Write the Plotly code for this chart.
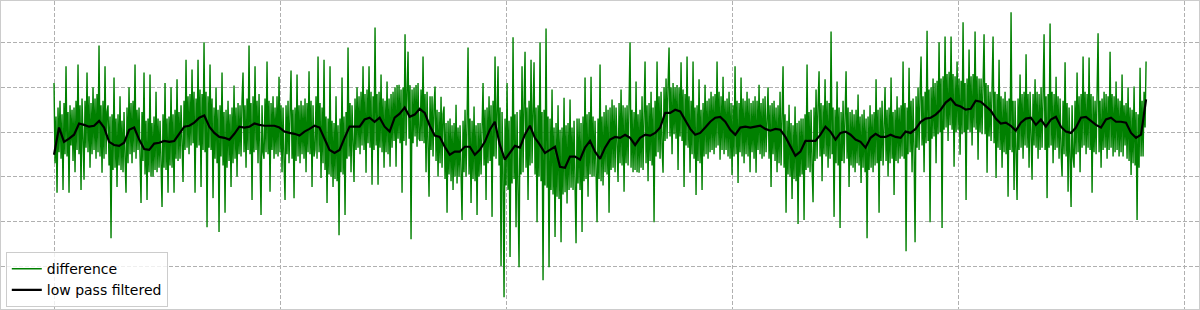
import numpy as np
import plotly.graph_objects as go

# "difference" signal (evenly spaced samples over 0..2416)
difference = [
    1.10, -0.70, 0.35, -1.36, 0.55, -0.45, 0.70, -0.60, 0.40, -1.30, 0.65, -0.50, 1.47, -0.55, 0.45,
    -1.36, 0.60, -0.30, 0.50, -0.65, 0.55, -0.90, 0.70, -0.40, 1.51, -0.50, 0.60, -1.30, 0.75, -0.45,
    -1.07, 0.70, -0.35, 1.33, -0.45, 0.80, -0.80, 0.65, -0.50, 1.00, -0.40, 0.75, -0.60, 0.85, -0.45,
    1.94, -0.55, 0.60, -0.91, 0.70, -0.60, 1.47, -0.50, 0.45, 0.60, -0.75, 0.35, -2.38, 0.40, -0.85,
    1.22, -0.80, 0.30, -1.23, 0.40, -0.75, 0.80, -0.85, 0.25, -0.90, 0.45, -0.60, -1.36, 0.55, -0.70,
    1.00, -0.50, 0.65, -0.70, 0.70, -0.45, 1.51, -0.60, 0.50, -0.40, 0.55, -0.75, -1.59, 0.45, -0.65,
    1.33, -0.95, 0.25, -1.52, 0.30, -0.90, 1.29, -1.00, 0.20, -1.00, 0.35, -0.85, 0.90, -0.90, 0.30,
    -0.80, 0.25, -0.95, -1.68, 0.40, -0.80, 1.10, -0.85, 0.30, -1.36, 0.35, -0.75, 1.00, -0.80, 0.40,
    -1.36, 0.50, -0.60, 1.18, -0.65, 0.45, -0.60, 0.60, -0.55, -1.12, 0.70, -0.40, 1.62, -0.35, 0.80,
    -0.50, 0.85, -0.30, 1.40, -0.25, 0.90, -1.36, 0.75, -0.35, 1.62, -0.30, 0.95, -1.23, 0.85, -0.40,
    2.01, -0.45, 0.90, -2.13, 0.80, -0.35, 1.51, -0.40, 0.75, -1.48, 0.55, -0.60, 1.00, -0.70, 0.50,
    -2.24, 0.60, -0.55, 1.33, -0.75, 0.45, -1.81, 0.50, -0.80, 0.70, -0.65, 0.40, -1.23, 0.55, -0.70,
    1.04, -0.60, 0.55, -1.00, 0.65, -0.50, 0.60, -0.55, 0.70, 1.33, -0.45, 0.60, -0.80, 0.75, -0.40,
    1.94, -0.50, 0.65, -1.52, 0.80, -0.45, 1.47, -0.40, 0.70, -0.70, 0.85, -0.55, -1.86, 0.60, -0.45,
    -0.60, 0.75, -0.45, 1.58, -0.50, 0.70, -1.34, 0.65, -0.40, 0.80, -0.60, 0.55, -0.50, 0.80, -0.55,
    1.24, -0.45, 0.60, -0.90, 0.55, -0.65, -1.52, 0.60, -0.50, 0.70, -0.70, 0.45, 1.38, -0.60, 0.50,
    -1.48, 0.55, -0.65, 1.29, -0.55, 0.60, -0.70, 0.70, -0.50, 0.60, -0.60, 0.75, -0.90, 0.65, -0.45,
    1.36, -0.50, 0.70, -1.23, 0.60, -0.55, -0.40, 0.80, -0.60, 1.69, -0.45, 0.65, -1.03, 0.55, -0.70,
    1.62, -0.85, 0.35, -1.59, 0.30, -0.95, 1.47, -1.00, 0.25, -1.23, 0.20, -1.05, 0.80, -1.10, 0.15,
    -2.31, 0.30, -0.90, 1.22, -0.95, 0.35, -1.86, 0.45, -0.60, 1.89, -0.55, 0.65, -0.90, 0.60, -0.50,
    -1.12, 0.75, -0.40, 1.00, -0.35, 0.80, -0.50, 0.90, -0.30, 1.47, -0.40, 0.85, -0.91, 0.95, -0.25,
    1.47, -0.35, 0.90, -1.18, 0.80, -0.40, 2.34, -0.30, 0.85, -1.18, 0.90, -0.35, 1.29, -0.45, 0.75,
    -0.80, 0.70, -0.45, 1.13, -0.50, 0.75, -0.78, 0.85, -0.35, 0.90, -0.20, 1.00, -0.78, 1.05, -0.15,
    1.06, -0.25, 0.95, -1.36, 1.00, -0.20, 2.19, -0.30, 0.90, 1.80, -0.15, 1.05, -2.40, 0.95, -0.25,
    1.00, -0.10, 1.05, -0.33, 1.10, -0.15, -0.20, 0.95, -0.20, 1.69, -0.25, 0.85, -0.90, 0.90, -0.35,
    -1.45, 0.80, -0.40, 0.80, -0.55, 0.60, 1.02, -0.65, 0.50, -1.00, 0.45, -0.70, 0.79, -0.80, 0.40,
    0.57, -1.05, 0.20, -1.81, 0.25, -0.95, 0.30, -1.10, 0.15, -1.30, 0.20, -1.00, 0.61, -1.15, 0.10,
    -1.00, 0.15, -1.05, -1.97, 0.25, -0.90, 0.50, -1.00, 0.20, 1.89, -0.95, 0.30, -1.59, 0.25, -1.05,
    0.57, -1.10, 0.15, -1.86, 0.20, -1.00, 0.20, -0.95, 0.40, 1.10, -0.75, 0.50, -1.52, 0.55, -0.70,
    0.80, -0.65, 0.60, -1.90, 0.70, -0.55, 1.69, -0.60, 0.65, 1.47, -0.75, 0.55, -3.00, 0.45, -0.90,
    -3.70, 0.30, -1.20, 1.10, -1.30, 0.25, -2.80, 0.35, -1.15, 2.12, -1.05, 0.40, -2.13, 0.45, -1.00,
    -3.03, 0.50, -0.95, 1.47, -0.90, 0.60, 1.80, -0.80, 0.55, -1.52, 0.70, -0.75, 1.62, -0.70, 0.75,
    1.56, -0.95, 0.55, -2.02, 0.60, -1.00, 2.01, -1.10, 0.45, -3.32, 0.50, -1.20, 2.32, -1.25, 0.35,
    -3.03, 0.30, -1.30, 0.95, -1.40, 0.10, -2.35, 0.20, -1.45, 0.60, -1.50, 0.05, -2.47, 0.10, -1.40,
    0.77, -1.35, 0.15, -1.60, 0.20, -1.30, 0.73, -1.25, 0.10, -1.30, 0.25, -1.20, -2.49, 0.30, -1.15,
    0.30, -1.30, 0.20, -2.24, 0.35, -1.10, 1.22, -1.05, 0.40, -1.45, 0.45, -0.95, 1.24, -1.00, 0.35,
    -1.00, 0.25, -1.15, -2.02, 0.30, -1.05, 1.51, -1.10, 0.35, -1.20, 0.45, -0.90, 0.60, -0.95, 0.50,
    -1.81, 0.55, -0.85, 0.73, -0.80, 0.60, -0.90, 0.55, -0.75, -1.12, 0.65, -0.70, 0.95, -0.75, 0.60,
    -1.34, 0.55, -0.70, 0.60, -0.75, 0.65, 2.01, -0.80, 0.50, -0.90, 0.45, -0.85, 1.13, -0.90, 0.40,
    -0.91, 0.50, -0.80, 0.80, -0.85, 0.55, 1.58, -0.70, 0.60, -1.10, 0.65, -0.65, 0.90, -0.75, 0.55,
    -2.02, 0.70, -0.55, 1.58, -0.45, 0.80, -0.60, 0.90, -0.35, -0.91, 1.00, -0.20, 1.20, -0.15, 1.05,
    1.89, -0.10, 1.00, -0.50, 1.10, -0.05, 1.00, -0.15, 1.05, -0.85, 1.00, -0.10, 1.56, -0.20, 0.95,
    -1.23, 0.85, -0.30, 1.69, -0.35, 0.80, -0.91, 0.70, -0.50, 1.58, -0.60, 0.55, -1.41, 0.60, -0.65,
    1.18, -0.70, 0.50, -1.30, 0.65, -0.55, 1.06, -0.50, 0.70, -0.60, 0.75, -0.45, 0.90, -0.40, 0.80,
    -0.50, 0.85, -0.35, 1.58, -0.30, 0.90, -0.62, 0.80, -0.40, 1.24, -0.50, 0.70, -0.40, 0.75, -0.55,
    0.90, -0.60, 0.65, -0.96, 0.60, -0.55, 1.47, -0.50, 0.70, -1.14, 0.65, -0.45, 1.22, -0.55, 0.75,
    -0.70, 0.70, -0.50, 0.90, -0.55, 0.75, -0.90, 0.65, -0.45, 0.70, -0.60, 0.80, -0.91, 0.70, -0.40,
    1.06, -0.50, 0.65, -0.60, 0.75, -0.55, 0.80, -0.45, 0.70, 1.00, -0.60, 0.60, -1.23, 0.65, -0.50,
    0.70, -0.65, 0.55, -0.90, 0.60, -0.70, 0.90, -0.75, 0.45, 1.47, -0.80, 0.40, -1.81, 0.25, -0.95,
    0.61, -1.00, 0.20, -1.50, 0.15, -1.05, 0.57, -1.10, 0.20, -2.06, 0.25, -1.00, 0.30, -0.95, 0.30,
    -1.97, 0.40, -0.85, 1.51, -0.80, 0.45, -0.90, 0.50, -0.75, -1.57, 0.55, -0.65, 0.95, -0.60, 0.60,
    1.36, -0.55, 0.65, -1.10, 0.60, -0.50, 1.18, -0.55, 0.70, -0.80, 0.65, -0.60, 2.25, -0.50, 0.55,
    -1.90, 0.50, -0.70, 1.13, -0.75, 0.55, -2.15, 0.45, -0.65, 0.70, -0.70, 0.50, 1.36, -0.60, 0.55,
    -1.23, 0.45, -0.75, 0.50, -0.80, 0.40, -0.90, 0.50, -0.70, 0.84, -0.75, 0.35, -1.14, 0.40, -0.80,
    0.50, -0.90, 0.30, -2.38, 0.35, -0.85, 0.60, -0.80, 0.40, -0.90, 0.45, -0.75, 1.18, -0.70, 0.50,
    -1.81, 0.55, -0.65, 0.70, -0.75, 0.45, 1.00, -0.65, 0.50, -1.00, 0.55, -0.70, 1.22, -0.60, 0.45,
    -1.41, 0.50, -0.65, 0.80, -0.70, 0.55, -0.60, 0.60, -0.55, 1.58, -0.60, 0.65, -2.67, 0.55, -0.50,
    1.44, -0.45, 0.70, -0.90, 0.75, -0.40, -2.47, 0.80, -0.35, 1.00, -0.40, 0.85, 1.69, -0.30, 0.80,
    -0.90, 0.90, -0.25, 2.27, -0.20, 0.95, -2.02, 1.00, -0.15, 1.20, -0.10, 1.10, -0.70, 1.15, -0.05,
    2.01, 0.00, 1.20, -2.15, 1.25, 0.05, 2.14, 0.10, 1.30, -0.20, 1.35, 0.15, 2.14, 0.05, 1.30,
    -0.78, 1.25, 0.00, 1.58, 0.05, 1.20, -0.51, 1.15, -0.05, 2.46, 0.00, 1.10, -1.52, 1.20, 0.05,
    1.85, 0.00, 1.25, -0.30, 1.30, 0.10, 2.25, 0.05, 1.25, -0.62, 1.20, 0.00, 1.20, -0.05, 1.15,
    2.19, -0.05, 1.10, -0.91, 1.05, -0.10, 0.90, -0.20, 0.95, 2.14, -0.25, 0.90, -1.03, 0.85, -0.35,
    1.62, -0.40, 0.80, -0.80, 0.75, -0.45, 0.90, -0.50, 0.70, -1.45, 0.75, -0.40, 2.68, -0.45, 0.70,
    -1.30, 0.70, -0.45, -1.52, 0.75, -0.40, 1.29, -0.35, 0.85, -0.60, 0.90, -0.30, 1.74, -0.35, 0.85,
    -0.80, 0.90, -0.40, -1.07, 0.85, -0.30, 1.18, -0.35, 0.90, -0.60, 0.85, -0.40, 1.00, -0.35, 0.80,
    2.19, -0.40, 0.80, -1.48, 0.85, -0.35, 2.43, -0.30, 0.90, -0.70, 0.85, -0.40, 1.24, -0.35, 0.80,
    -0.60, 0.75, -0.45, -1.00, 0.70, -0.50, 1.56, -0.55, 0.65, -1.34, 0.55, -0.60, -1.68, 0.60, -0.55,
    -0.80, 0.70, -0.50, 1.33, -0.45, 0.80, -0.90, 0.85, -0.35, 1.69, -0.30, 0.90, -0.50, 0.85, -0.35,
    1.67, -0.40, 0.85, -1.36, 0.80, -0.45, 0.70, -0.50, 0.75, 2.21, -0.45, 0.70, -0.80, 0.75, -0.40,
    0.90, -0.35, 0.85, -0.60, 0.80, -0.40, 1.80, -0.35, 0.85, -0.55, 0.80, -0.45, 1.13, -0.40, 0.75,
    -0.55, 0.70, -0.45, 1.29, -0.55, 0.60, -0.30, 0.65, -0.60, 1.00, -0.65, 0.55, -0.96, 0.50, -0.70,
    1.02, -0.75, 0.45, -1.97, 0.40, -0.80, 1.44, -0.55, 0.70, -0.55, 0.90, 0.10, 1.58,
]

# "low pass filtered" signal
low_pass = [
    -0.51, 0.10, -0.22, -0.15, -0.06, 0.19, 0.16, 0.12, 0.14, 0.25,
    0.10, -0.22, -0.29, -0.31, -0.24, 0.05, 0.10, -0.17, -0.38, -0.40,
    -0.26, -0.24, -0.20, -0.22, -0.20, -0.04, 0.12, 0.14, 0.21, 0.32,
    0.37, 0.12, -0.02, -0.11, -0.13, -0.17, -0.04, 0.12, 0.10, 0.12,
    0.19, 0.16, 0.14, 0.14, 0.14, 0.10, 0.01, -0.02, -0.04, -0.08,
    0.01, 0.07, 0.14, 0.10, -0.17, -0.40, -0.47, -0.40, -0.13, 0.12,
    0.12, 0.12, 0.28, 0.32, 0.23, 0.32, 0.12, 0.01, 0.32, 0.41,
    0.55, 0.34, 0.39, 0.52, 0.43, 0.14, -0.08, -0.11, -0.33, -0.51,
    -0.44, -0.44, -0.33, -0.33, -0.51, -0.40, -0.22, 0.05, 0.23, -0.29,
    -0.62, -0.47, -0.31, -0.35, -0.06, 0.14, -0.13, -0.29, -0.47, -0.40,
    -0.33, -0.78, -0.80, -0.55, -0.55, -0.62, -0.35, -0.20, -0.44, -0.60,
    -0.35, -0.17, -0.11, -0.13, -0.06, -0.13, -0.29, -0.13, -0.06, -0.08,
    -0.02, 0.10, 0.43, 0.43, 0.50, 0.46, 0.28, 0.07, -0.06, -0.02,
    0.10, 0.23, 0.32, 0.34, 0.23, 0.05, -0.06, 0.10, 0.12, 0.10,
    0.12, 0.14, 0.07, 0.03, 0.07, 0.05, -0.11, -0.31, -0.53, -0.44,
    -0.20, -0.20, -0.20, -0.06, 0.12, 0.01, -0.17, -0.02, 0.01, -0.06,
    -0.17, -0.22, -0.35, -0.13, -0.04, -0.11, -0.11, -0.06, -0.11, -0.13,
    0.01, -0.02, 0.07, 0.23, 0.30, 0.32, 0.39, 0.50, 0.66, 0.75,
    0.61, 0.57, 0.50, 0.52, 0.70, 0.68, 0.57, 0.48, 0.30, 0.19,
    0.21, 0.14, 0.03, 0.21, 0.30, 0.32, 0.16, 0.28, 0.12, 0.28,
    0.34, 0.12, 0.01, -0.02, 0.10, 0.32, 0.34, 0.25, 0.16, 0.10,
    0.28, 0.32, 0.23, 0.23, 0.21, -0.02, -0.13, -0.06, 0.73,
]

series_names = ["difference", "low pass filtered"]
n_samples = 2416

x_diff = np.linspace(0, n_samples, len(difference))
x_low = np.linspace(0, n_samples, len(low_pass))

fig = go.Figure()
fig.add_trace(go.Scatter(x=x_diff, y=difference, mode="lines", name=series_names[0],
                         line=dict(color="#008000", width=1.4)))
fig.add_trace(go.Scatter(x=x_low, y=low_pass, mode="lines", name=series_names[1],
                         line=dict(color="#000000", width=2.2)))

axis_common = dict(showticklabels=False, ticks="", zeroline=False,
                   showgrid=True, gridcolor="#b0b0b0", griddash="4px,2px", gridwidth=1,
                   showline=True, linecolor="#cccccc", linewidth=1, mirror=True)

fig.update_layout(
    width=1200, height=310,
    margin=dict(l=1, r=1, t=1, b=1),
    paper_bgcolor="white", plot_bgcolor="white",
    showlegend=True,
    legend=dict(x=0.004, y=0.006, xanchor="left", yanchor="bottom",
                bgcolor="rgba(255,255,255,0.8)", bordercolor="#cccccc", borderwidth=1,
                font=dict(family="DejaVu Sans", size=14, color="black"),
                itemwidth=30, tracegroupgap=0),
    xaxis=dict(range=[-117.3, 2533.1], tick0=0, dtick=500, **axis_common),
    yaxis=dict(range=[-3.963, 2.934], tick0=0, dtick=1, **axis_common),
    hovermode=False,
)

fig.write_html("out.html", config={"displayModeBar": False},
               post_script="document.body.style.margin='0';")
